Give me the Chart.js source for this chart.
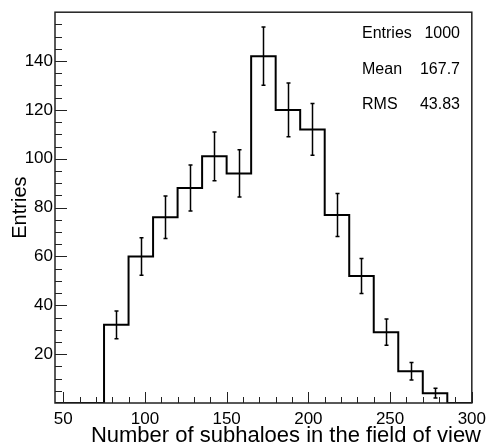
<!DOCTYPE html>
<html>
<head>
<meta charset="utf-8">
<script src="https://cdn.jsdelivr.net/npm/chart.js@4"></script>
<style>
  html, body { margin: 0; padding: 0; background: #fff; }
  #wrap { width: 492px; height: 444px; }
</style>
</head>
<body>
<div id="wrap"><canvas id="histo"></canvas></div>
<script>
const binEdges = [45, 60, 75, 90, 105, 120, 135, 150, 165, 180, 195, 210, 225, 240, 255, 270, 285, 300];
const counts = [0, 0, 32, 60, 76, 88, 101, 94, 142, 120, 112, 77, 52, 29, 13, 4, 0];
const errors = [0, 0, 5.7, 7.7, 8.7, 9.4, 10, 9.7, 11.9, 11, 10.6, 8.8, 7.2, 5.4, 3.6, 2, 0];
const xTicks = [50, 100, 150, 200, 250, 300];
const yTicks = [20, 40, 60, 80, 100, 120, 140];
const statLabels = ["Entries", "Mean", "RMS"];
const statValues = ["1000", "167.7", "43.83"];
const xTitle = "Number of subhaloes in the field of view";

const FONT = "'Liberation Sans', Arial, Helvetica, sans-serif";

// histogram outline as step line through the left bin edges
const points = binEdges.map((e, i) => ({ x: e, y: i < counts.length ? counts[i] : 0 }));

const rootStyle = {
  id: "rootStyle",
  afterDatasetsDraw(chart) {
    const { ctx, chartArea: a, scales: { x, y } } = chart;
    ctx.save();

    // error bars
    ctx.strokeStyle = "#000";
    ctx.lineWidth = 1.5;
    counts.forEach((c, i) => {
      if (!c) return;
      const cx = Math.round(x.getPixelForValue((binEdges[i] + binEdges[i + 1]) / 2)) + 0.5;
      const y1 = y.getPixelForValue(c - errors[i]);
      const y2 = y.getPixelForValue(c + errors[i]);
      ctx.beginPath();
      ctx.moveTo(cx, y1); ctx.lineTo(cx, y2);
      ctx.moveTo(cx - 2, y1); ctx.lineTo(cx + 2, y1);
      ctx.moveTo(cx - 2, y2); ctx.lineTo(cx + 2, y2);
      ctx.stroke();
    });

    // inner ticks
    ctx.strokeStyle = "#222";
    ctx.lineWidth = 1;
    ctx.beginPath();
    for (let v = 50; v <= 300; v += 10) {
      const px = Math.round(x.getPixelForValue(v)) + 0.5;
      const len = v % 50 === 0 ? 11 : 6;
      ctx.moveTo(px, a.bottom); ctx.lineTo(px, a.bottom - len);
    }
    for (let v = 5; v < 160; v += 5) {
      const py = Math.round(y.getPixelForValue(v)) + 0.5;
      const len = v % 20 === 0 ? 12 : 7;
      ctx.moveTo(a.left, py); ctx.lineTo(a.left + len, py);
    }
    ctx.stroke();

    // frame
    ctx.strokeStyle = "#222";
    ctx.lineWidth = 1.5;
    ctx.strokeRect(a.left, a.top, a.right - a.left, a.bottom - a.top);

    // stats box text
    ctx.fillStyle = "#000";
    ctx.font = "16px " + FONT;
    ctx.textBaseline = "middle";
    statLabels.forEach((lab, i) => {
      const ty = 34 + i * 35.5;
      ctx.textAlign = "left";
      ctx.fillText(lab, 362, ty);
      ctx.textAlign = "right";
      ctx.fillText(statValues[i], 460, ty);
    });

    // x axis title, right end a bit past the frame like ROOT
    ctx.font = "22px " + FONT;
    ctx.textAlign = "right";
    ctx.textBaseline = "alphabetic";
    ctx.fillText(xTitle, 481, 441.5);
    ctx.restore();
  }
};

new Chart(document.getElementById("histo"), {
  type: "line",
  data: {
    datasets: [{
      data: points,
      stepped: "before",
      borderColor: "#000",
      borderWidth: 2,
      pointRadius: 0,
      fill: false
    }]
  },
  options: {
    responsive: true,
    maintainAspectRatio: false,
    animation: false,
    layout: { padding: { left: 0, right: 19, top: 7, bottom: 0 } },
    plugins: {
      legend: { display: false },
      tooltip: { enabled: false }
    },
    scales: {
      x: {
        type: "linear",
        min: 45,
        max: 300,
        afterBuildTicks: s => { s.ticks = xTicks.map(v => ({ value: v })); },
        afterFit: s => { s.height = 41; },
        grid: { display: false, drawTicks: false },
        border: { display: false },
        ticks: { color: "#000", padding: 6, maxRotation: 0, font: { family: FONT, size: 17 } },
        title: { display: false }
      },
      y: {
        min: 0,
        max: 160,
        afterBuildTicks: s => { s.ticks = yTicks.map(v => ({ value: v })); },
        afterFit: s => { s.width = 55; },
        grid: { display: false, drawTicks: false },
        border: { display: false },
        ticks: { color: "#000", padding: 2, font: { family: FONT, size: 17 } },
        title: {
          display: true,
          text: "Entries",
          color: "#000",
          padding: { top: 8, bottom: 0 },
          font: { family: FONT, size: 20 }
        }
      }
    }
  },
  plugins: [rootStyle]
});
</script>
</body>
</html>
